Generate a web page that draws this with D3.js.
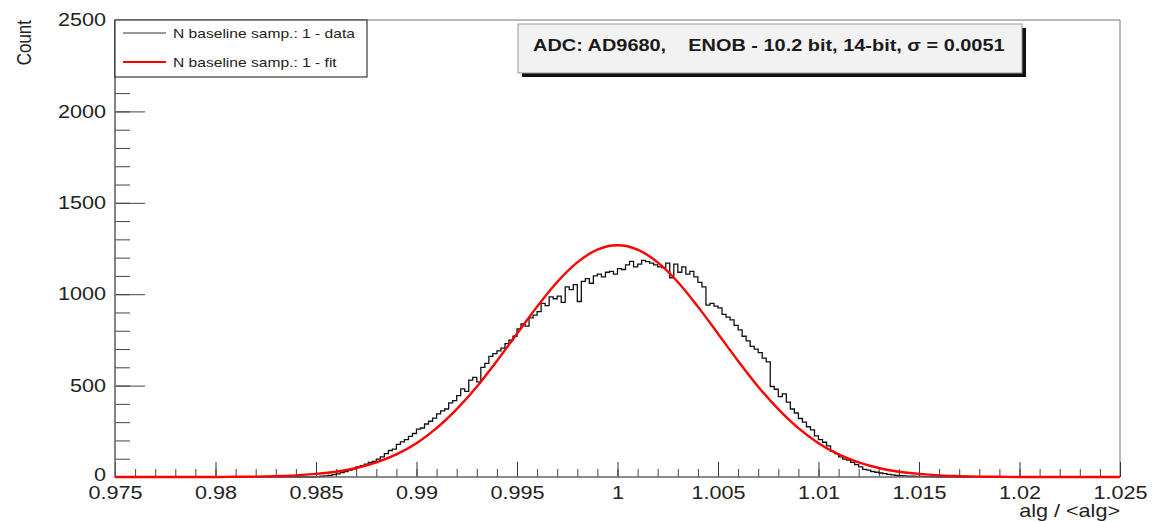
<html>
<head>
<meta charset="utf-8">
<title>ADC AD9680 baseline</title>
<script src="https://d3js.org/d3.v7.min.js"></script>
<style>
  body { margin: 0; background: #fff; }
  text { font-family: "Liberation Sans", Arial, Helvetica, sans-serif; }
</style>
</head>
<body>
<div id="chart"></div>
<script>
// histogram: bin width 0.0002 starting at 0.985, counts
const binStart = 0.985;
const binWidth = 0.0002;
const counts = [
  2, 4, 6, 9, 13,            17, 24, 30, 38, 45,
  55, 62, 70, 80, 86,        98, 110, 128, 145, 152,
  178, 192, 205, 222, 238,   262, 268, 290, 305, 322,
  345, 362, 372, 405, 418,   445, 482, 468, 530, 545,
  520, 600, 622, 660, 675,   690, 705, 730, 748, 770,
  810, 838, 825, 870, 885,   905, 950, 938, 985, 975,
  990, 955, 1040, 1025, 1052, 960, 1070, 1085, 1060, 1100,
  1110, 1095, 1120, 1125, 1110, 1140, 1135, 1160, 1180, 1150,
  1165, 1185, 1178, 1170, 1160, 1150, 1145, 1170, 1090, 1165,
  1120, 1150, 1110, 1125, 1095, 1065, 1040, 940, 950, 935,
  925, 890, 875, 860, 830,   805, 770, 745, 715, 700,
  680, 650, 630, 495, 480,   440, 455, 410, 372, 350,
  320, 300, 275, 258, 225,   205, 190, 170, 140, 128,
  110, 98, 92, 80, 68,       55, 42, 38, 30, 26,
  22, 18, 14, 12, 9,         8, 6, 5, 4, 3,
  3, 2, 1, 1, 0
];

// fit curve sampled every 0.001 from 0.975 to 1.025
const fitX = d3.range(51).map(i => +(0.975 + i * 0.001).toFixed(3));
const fitY = [
  0, 0, 0, 0, 0, 0, 1, 2, 5, 9,
  17, 29, 49, 80, 124, 185, 267, 371, 494, 635,
  784, 932, 1067, 1174, 1244, 1268, 1244, 1174, 1067, 932,
  784, 635, 494, 371, 267, 185, 124, 80, 49, 29,
  17, 9, 5, 2, 1, 0, 0, 0, 0, 0, 0
];

const xMajor = [0.975, 0.98, 0.985, 0.99, 0.995, 1, 1.005, 1.01, 1.015, 1.02, 1.025];
const xMinor = d3.range(51).map(i => 0.975 + i * 0.001);
const yMajor = [0, 500, 1000, 1500, 2000, 2500];
const yMinor = d3.range(26).map(i => i * 100);

const legendLabels = ["N baseline samp.: 1 - data", "N baseline samp.: 1 - fit"];
const statText = "ADC: AD9680,\u00a0\u00a0\u00a0\u00a0ENOB - 10.2 bit, 14-bit, \u03c3 = 0.0051";
const xTitle = "alg / <alg>";
const yTitle = "Count";

const W = 1155, H = 522;
const L = 115, R = 1120, T = 20, B = 477;
const SX = 1.2; // glyphs in the picture are wide

const svg = d3.select("#chart").append("svg")
    .attr("width", W).attr("height", H);

let x = d3.scaleLinear().domain([0.975, 1.025]).range([L, R]);
let y = d3.scaleLinear().domain([0, 2500]).range([B, T]);

// frame top/right
svg.append("path")
    .attr("d", `M${L},${T}H${R}V${B}`)
    .attr("fill", "none").attr("stroke", "#777").attr("stroke-width", 1);

// y minor + major ticks (inside the frame)
svg.append("g").attr("transform", `translate(${L},0)`)
    .call(d3.axisRight(y).tickValues(yMinor).tickSize(15).tickFormat(""))
    .call(g => g.select(".domain").remove())
    .selectAll("line").attr("stroke", "#444");
svg.append("g").attr("transform", `translate(${L},0)`)
    .call(d3.axisRight(y).tickValues(yMajor).tickSize(30).tickFormat(""))
    .call(g => g.select(".domain").remove())
    .selectAll("line").attr("stroke", "#444");

// x minor + major ticks (pointing up)
svg.append("g").attr("transform", `translate(0,${B})`)
    .call(d3.axisTop(x).tickValues(xMinor).tickSize(8).tickFormat(""))
    .call(g => g.select(".domain").remove())
    .selectAll("line").attr("stroke", "#444");
svg.append("g").attr("transform", `translate(0,${B})`)
    .call(d3.axisTop(x).tickValues(xMajor).tickSize(15).tickFormat(""))
    .call(g => g.select(".domain").remove())
    .selectAll("line").attr("stroke", "#333");

// tick labels
let yLab = svg.append("g").attr("transform", `translate(${L},0)`)
    .call(d3.axisLeft(y).tickValues(yMajor).tickSize(0).tickPadding(7.5).tickFormat(d3.format("d")));
yLab.select(".domain").remove();
yLab.selectAll("text").attr("font-size", 18).attr("fill", "#222")
    .attr("font-family", "Liberation Sans, Arial, sans-serif")
    .attr("transform", `scale(${SX},1)`);
// the "0" sits a touch higher so it clears the first x label
yLab.selectAll("text").filter(d => d === 0).attr("dy", "0.2em");

let xLab = svg.append("g").attr("transform", `translate(0,${B})`)
    .call(d3.axisBottom(x).tickValues(xMajor).tickSize(0).tickPadding(9).tickFormat(d => String(d)));
xLab.select(".domain").remove();
xLab.selectAll("text").attr("font-size", 18).attr("fill", "#222")
    .attr("font-family", "Liberation Sans, Arial, sans-serif")
    .attr("transform", `scale(${SX},1)`);

// histogram as steps
let pts = [[0.975, 0]];
counts.forEach((c, i) => pts.push([binStart + i * binWidth, c]));
pts.push([1.025, 0]);
svg.append("path")
    .datum(pts)
    .attr("fill", "none")
    .attr("stroke", "#111")
    .attr("stroke-width", 1.3)
    .attr("d", d3.line().x(d => x(d[0])).y(d => y(d[1])).curve(d3.curveStepAfter));

// axes lines
svg.append("path")
    .attr("d", `M${L},${T}V${B}H${R}`)
    .attr("fill", "none").attr("stroke", "#666").attr("stroke-width", 1.6);

// fit
svg.append("path")
    .datum(fitX.map((v, i) => [v, fitY[i]]))
    .attr("fill", "none")
    .attr("stroke", "#ff0000")
    .attr("stroke-width", 2.4)
    .attr("d", d3.line().x(d => x(d[0])).y(d => y(d[1])).curve(d3.curveMonotoneX));

// axis titles
svg.append("text")
    .attr("transform", `translate(${R},517) scale(${SX},1)`)
    .attr("text-anchor", "end").attr("font-size", 18).attr("fill", "#222")
    .text(xTitle);
svg.append("text")
    .attr("transform", `translate(31,20) scale(${SX},1) rotate(-90)`)
    .attr("text-anchor", "end").attr("font-size", 17).attr("fill", "#222")
    .text(yTitle);

// legend
let leg = svg.append("g");
leg.append("rect")
    .attr("x", L).attr("y", T).attr("width", 252).attr("height", 57)
    .attr("fill", "#fff").attr("stroke", "#111").attr("stroke-width", 1);
const legColors = ["#999", "#ff0000"];
const legY = [33, 62];
legendLabels.forEach((t, i) => {
  leg.append("line")
      .attr("x1", 123).attr("x2", 166).attr("y1", legY[i]).attr("y2", legY[i])
      .attr("stroke", legColors[i]).attr("stroke-width", i ? 2.2 : 1.8);
  leg.append("text")
      .attr("transform", `translate(173,${legY[i] + 4.5}) scale(${SX},1)`)
      .attr("font-size", 13).attr("fill", "#222")
      .text(t);
});

// stat box
let st = svg.append("g");
st.append("rect")
    .attr("x", 522).attr("y", 28).attr("width", 504).attr("height", 49)
    .attr("fill", "#111");
st.append("rect")
    .attr("x", 518).attr("y", 24).attr("width", 504).attr("height", 49)
    .attr("fill", "#f2f2f2").attr("stroke", "#999").attr("stroke-width", 1);
st.append("text")
    .attr("transform", `translate(533,51) scale(${SX},1)`)
    .attr("font-size", 16.6).attr("font-weight", "bold").attr("fill", "#1a1a1a")
    .text(statText);
</script>
</body>
</html>
